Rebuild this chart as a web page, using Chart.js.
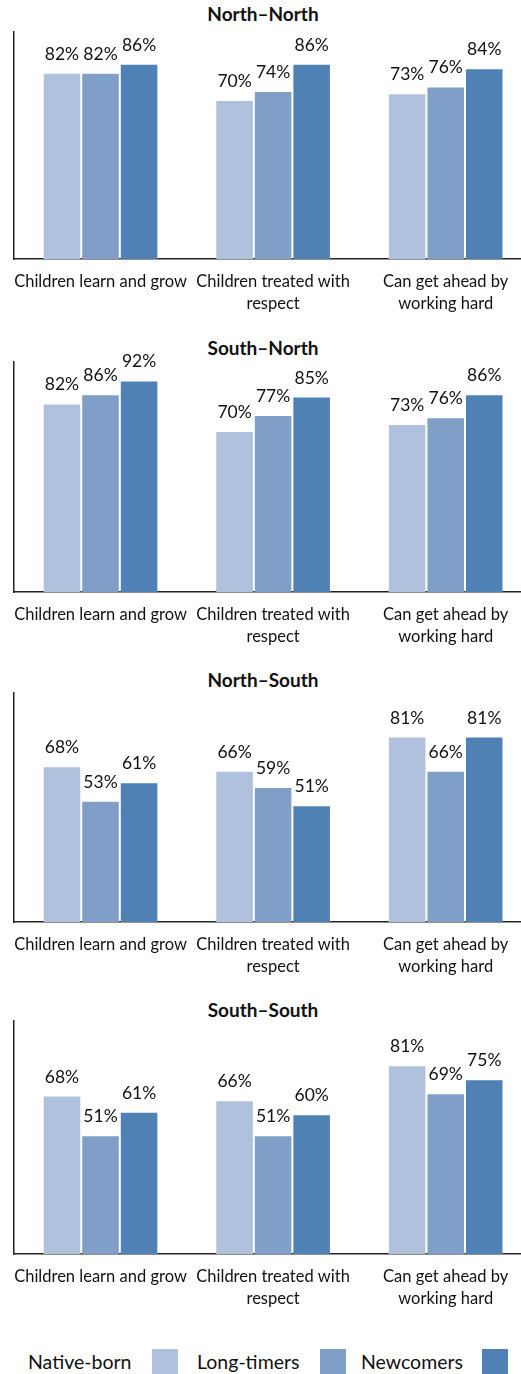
<!DOCTYPE html>
<html>
<head>
<meta charset="utf-8">
<script src="https://cdn.jsdelivr.net/npm/chart.js@4/dist/chart.umd.min.js"></script>
<style>
  html, body { margin: 0; padding: 0; overflow: hidden; background: #fff; }
  body { width: 521px; height: 1374px; position: relative; font-family: Lato, sans-serif; color: #111; }
  .panel { position: absolute; left: 0; width: 532px; }
  .title { position: absolute; left: 0; width: 526px; text-align: center; font-weight: bold; font-size: 19px; line-height: 22px; }
  .legend span { position: absolute; font-size: 19.5px; line-height: 22px; top: 1351px; }
  .legend i { position: absolute; width: 26px; height: 26px; top: 1349px; }
</style>
</head>
<body>
<div class="title" style="top:3px">North–North</div>
<div class="title" style="top:337px">South–North</div>
<div class="title" style="top:669px">North–South</div>
<div class="title" style="top:999px">South–South</div>

<div class="panel" style="top:0px;height:319px"><canvas id="c0"></canvas></div>
<div class="panel" style="top:330px;height:322px"><canvas id="c1"></canvas></div>
<div class="panel" style="top:661px;height:321px"><canvas id="c2"></canvas></div>
<div class="panel" style="top:989px;height:325px"><canvas id="c3"></canvas></div>

<div class="legend">
  <span style="left:28px">Native-born</span><i style="left:152px;background:#B0C1DD"></i>
  <span style="left:197px">Long-timers</span><i style="left:320px;background:#7F9FC8"></i>
  <span style="left:361px">Newcomers</span><i style="left:482px;background:#4F81B5"></i>
</div>

<script>
const categories = ['Children learn and grow', ['Children treated with', 'respect'], ['Can get ahead by', 'working hard']];
const seriesNames = ['Native-born', 'Long-timers', 'Newcomers'];
const seriesColors = ['#B0C1DD', '#7F9FC8', '#4F81B5'];

// North–North
const nnNative = [82, 70, 73];
const nnLong = [82, 74, 76];
const nnNew = [86, 86, 84];
// South–North
const snNative = [82, 70, 73];
const snLong = [86, 77, 76];
const snNew = [92, 85, 86];
// North–South
const nsNative = [68, 66, 81];
const nsLong = [53, 59, 66];
const nsNew = [61, 51, 81];
// South–South
const ssNative = [68, 66, 81];
const ssLong = [51, 51, 69];
const ssNew = [61, 60, 75];

const panels = [
  [nnNative, nnLong, nnNew],
  [snNative, snLong, snNew],
  [nsNative, nsLong, nsNew],
  [ssNative, ssLong, ssNew]
];

// percentage labels above each bar
const valueLabels = {
  id: 'valueLabels',
  afterDatasetsDraw(chart) {
    const ctx = chart.ctx;
    ctx.save();
    ctx.font = '17.5px Lato, sans-serif';
    ctx.fillStyle = '#111';
    ctx.textAlign = 'center';
    ctx.textBaseline = 'alphabetic';
    chart.data.datasets.forEach((ds, i) => {
      chart.getDatasetMeta(i).data.forEach((bar, j) => {
        ctx.fillText(ds.data[j] + '%', bar.x, bar.y - 13);
      });
    });
    ctx.restore();
  }
};

panels.forEach((series, p) => {
  const ctx = document.getElementById('c' + p).getContext('2d');
  new Chart(ctx, {
    type: 'bar',
    data: {
      labels: categories,
      datasets: series.map((vals, i) => ({
        label: seriesNames[i],
        data: vals,
        backgroundColor: seriesColors[i],
        borderColor: 'rgba(255,255,255,0.2)',
        borderWidth: 1,
        categoryPercentage: 0.67,
        barPercentage: 1.0
      }))
    },
    options: {
      responsive: true,
      maintainAspectRatio: false,
      animation: false,
      layout: { padding: { left: 13, top: 32, right: 0, bottom: 0 } },
      plugins: { legend: { display: false }, tooltip: { enabled: false } },
      scales: {
        x: {
          grid: { display: false, drawTicks: false },
          border: { display: true, color: '#222', width: 1.5 },
          ticks: { color: '#111', padding: 12, font: { family: 'Lato', size: 16.5, lineHeight: 1.33 }, maxRotation: 0, autoSkip: false },
          afterFit: s => { s.height = 60; }
        },
        y: {
          min: 0, max: 100,
          grid: { display: false, drawTicks: false },
          border: { display: true, color: '#222', width: 1.5 },
          ticks: { display: false },
          afterFit: s => { s.width = 0; }
        }
      }
    },
    plugins: [valueLabels]
  });
});
</script>
</body>
</html>
